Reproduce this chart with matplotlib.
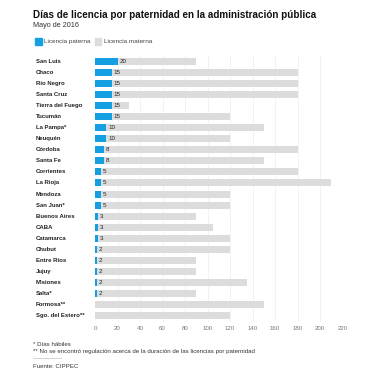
import matplotlib
matplotlib.use('Agg')
import matplotlib.pyplot as plt
from matplotlib.patches import Rectangle

plt.rcParams['font.family'] = ['Liberation Sans', 'DejaVu Sans']

provincias = [
    'San Luis', 'Chaco', 'Río Negro', 'Santa Cruz', 'Tierra del Fuego', 'Tucumán',
    'La Pampa*', 'Neuquén', 'Córdoba', 'Santa Fe', 'Corrientes', 'La Rioja',
    'Mendoza', 'San Juan*', 'Buenos Aires', 'CABA', 'Catamarca', 'Chubut',
    'Entre Ríos', 'Jujuy', 'Misiones', 'Salta*', 'Formosa**', 'Sgo. del Estero**',
]
paterna = [20, 15, 15, 15, 15, 15, 10, 10, 8, 8, 5, 5, 5, 5, 3, 3, 3, 2, 2, 2, 2, 2, None, None]
materna = [90, 180, 180, 180, 30, 120, 150, 120, 180, 150, 180, 210,
           120, 120, 90, 105, 120, 120, 90, 90, 135, 90, 150, 120]
ticks = [0, 20, 40, 60, 80, 100, 120, 140, 160, 180, 200, 220]

BLUE = '#149fe2'
GREY = '#dcdcdc'
W, H = 392, 378

fig = plt.figure(figsize=(W / 100, H / 100), dpi=100)
fig.patch.set_facecolor('white')

# axes placed in pixel terms: x 0 -> 95px, 220 -> 342.5px; rows 61px .. 316px
left, right = 95, 342.5
top, bottom = 55.5, 321.5
ax = fig.add_axes([left / W, 1 - bottom / H, (right - left) / W, (bottom - top) / H])

y = list(range(len(provincias)))
ax.barh(y, materna, height=0.63, color=GREY, zorder=2)
pat_vals = [p if p is not None else 0 for p in paterna]
ax.barh(y, pat_vals, height=0.63, color=BLUE, zorder=3)
for yi, p in zip(y, paterna):
    if p is not None:
        ax.annotate(str(p), (p, yi), xytext=(1.3, 0), textcoords='offset points',
                    va='center', ha='left', fontsize=4.5, color='#222222', zorder=4)

ax.set_xlim(0, 220)
ax.set_ylim(len(provincias) - 0.5, -0.5)
ax.set_xticks(ticks)
ax.set_xticklabels([str(t) for t in ticks], fontsize=4.4, color='#777777')
ax.set_yticks([])
ax.tick_params(axis='x', length=0, pad=3)
for t in ticks[1:-1]:
    ax.axvline(t, color='#f0f0f0', linewidth=0.6, zorder=1)
for s in ax.spines.values():
    s.set_visible(False)

# category labels, left aligned
for yi, name in zip(y, provincias):
    ax.annotate(name, (0, yi), xycoords=('figure pixels', 'data'),
                xytext=(36, 0), textcoords='offset pixels',
                va='center', ha='left', fontsize=4.3, fontweight='bold', color='#222222')

# titles
fig.text(33 / W, 1 - 15 / H, 'Días de licencia por paternidad en la administración pública',
         fontsize=7.15, fontweight='bold', color='#111111', va='center', ha='left')
fig.text(33 / W, 1 - 25.5 / H, 'Mayo de 2016', fontsize=5.2, color='#333333', va='center', ha='left')

# legend
fig.patches.append(Rectangle((35 / W, 1 - 44.5 / H), 6.5 / W, 6.5 / H,
                             transform=fig.transFigure, color=BLUE))
fig.text(44 / W, 1 - 41.2 / H, 'Licencia paterna', fontsize=4.6, color='#444444', va='center')
fig.patches.append(Rectangle((95 / W, 1 - 44.5 / H), 6.5 / W, 6.5 / H,
                             transform=fig.transFigure, color=GREY))
fig.text(104 / W, 1 - 41.2 / H, 'Licencia materna', fontsize=4.6, color='#444444', va='center')

# footnotes
fig.text(33 / W, 1 - 344 / H, '* Días hábiles', fontsize=4.45, color='#333333', va='center')
fig.text(33 / W, 1 - 351.5 / H,
         '** No se encontró regulación acerca de la duración de las licencias por paternidad',
         fontsize=4.45, color='#333333', va='center')
fig.add_artist(plt.Line2D([33 / W, 61 / W], [1 - 358 / H, 1 - 358 / H],
                          transform=fig.transFigure, color='#cccccc', linewidth=0.6))
fig.text(33 / W, 1 - 366 / H, 'Fuente: CIPPEC', fontsize=4.45, color='#333333', va='center')

fig.savefig('out.png', dpi=100)
